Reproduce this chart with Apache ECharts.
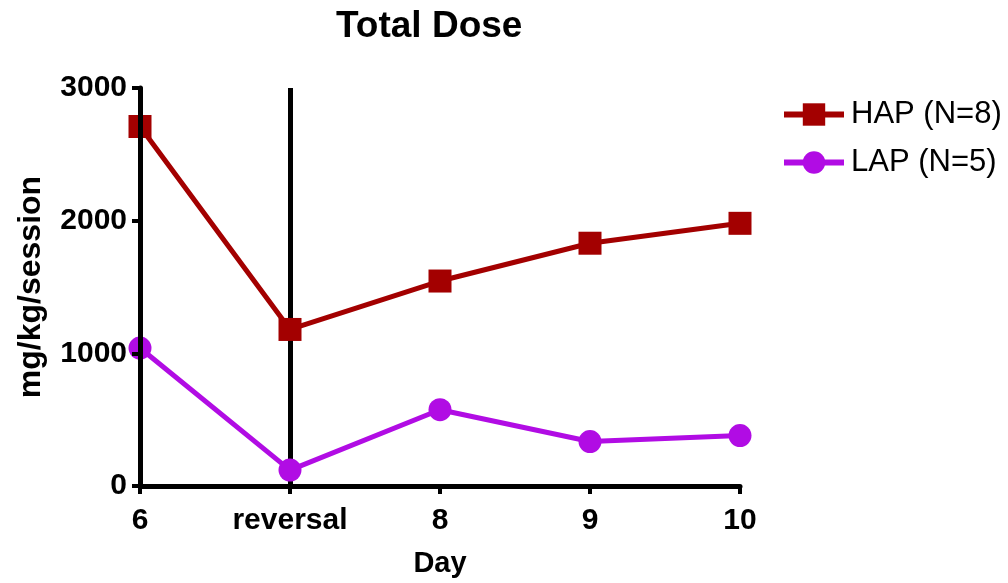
<!DOCTYPE html>
<html>
<head>
<meta charset="utf-8">
<script src="https://cdn.jsdelivr.net/npm/echarts@6/dist/echarts.min.js"></script>
<style>
html,body{margin:0;padding:0;background:#fff;}
#chart{width:1008px;height:583px;}
</style>
</head>
<body>
<div id="chart"></div>
<script>
var categories = ['6', 'reversal', '8', '9', '10'];
var hapValues = [2710, 1180, 1545, 1830, 1980];
var lapValues = [1040, 120, 575, 335, 380];
var yTicks = [0, 1000, 2000, 3000];

var boldFont = 'Liberation Sans';
var chart = echarts.init(document.getElementById('chart'), null, {renderer: 'canvas'});
chart.setOption({
  backgroundColor: '#ffffff',
  animation: false,
  title: {
    text: 'Total Dose',
    left: 331,
    top: 3,
    textStyle: {fontFamily: boldFont, fontWeight: 'bold', fontSize: 37, color: '#000'}
  },
  legend: {
    orient: 'vertical',
    left: 776,
    top: 94,
    itemWidth: 60,
    itemHeight: 28,
    itemGap: 17,
    lineStyle: {width: 6},
    textStyle: {fontFamily: 'Liberation Sans', fontSize: 31, color: '#000', lineHeight: 30, padding: [0,0,0,2]},
    data: ['HAP (N=8)', 'LAP (N=5)']
  },
  grid: {left: 140, right: 268, top: 88, bottom: 95, containLabel: false},
  xAxis: {
    type: 'category',
    data: categories,
    boundaryGap: false,
    name: 'Day',
    nameLocation: 'middle',
    nameGap: 63,
    nameTextStyle: {fontFamily: boldFont, fontWeight: 'bold', fontSize: 29, color: '#000'},
    axisLine: {lineStyle: {color: '#000', width: 5}},
    axisTick: {show: true, length: 8, lineStyle: {color: '#000', width: 4}},
    axisLabel: {fontFamily: boldFont, fontWeight: 'bold', fontSize: 30, color: '#000', margin: 20},
    splitLine: {show: false},
    z: 10
  },
  yAxis: {
    type: 'value',
    min: 0,
    max: 3000,
    interval: 1000,
    name: 'mg/kg/session',
    nameLocation: 'middle',
    nameGap: 93,
    nameTextStyle: {fontFamily: boldFont, fontWeight: 'bold', fontSize: 32, color: '#000'},
    axisLine: {show: true, lineStyle: {color: '#000', width: 5}},
    axisTick: {show: true, length: 8, lineStyle: {color: '#000', width: 4}},
    axisLabel: {fontFamily: boldFont, fontWeight: 'bold', fontSize: 30, color: '#000', margin: 13,
      formatter: function (v) { return yTicks.indexOf(v) >= 0 ? String(v) : ''; }},
    splitLine: {show: false},
    z: 10
  },
  series: [
    {
      name: 'HAP (N=8)',
      type: 'line',
      data: hapValues,
      symbol: 'rect',
      symbolSize: 23,
      clip: false,
      color: '#A30000',
      lineStyle: {width: 5, color: '#A30000'},
      itemStyle: {color: '#A30000'},
      z: 3,
      markLine: {
        silent: true,
        symbol: 'none',
        label: {show: false},
        lineStyle: {color: '#000', width: 5, type: 'solid'},
        data: [{xAxis: 'reversal'}],
        z: 1
      }
    },
    {
      name: 'LAP (N=5)',
      type: 'line',
      data: lapValues,
      symbol: 'circle',
      symbolSize: 23,
      clip: false,
      color: '#B10CE4',
      lineStyle: {width: 5, color: '#B10CE4'},
      itemStyle: {color: '#B10CE4'},
      z: 4
    }
  ]
});
</script>
</body>
</html>
